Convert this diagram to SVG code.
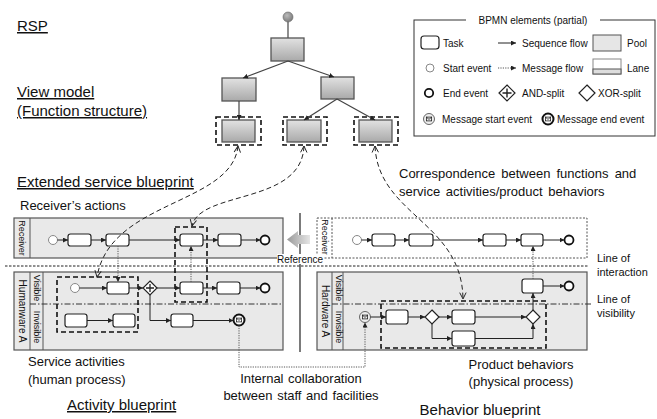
<svg xmlns="http://www.w3.org/2000/svg" width="657" height="419" viewBox="0 0 657 419">
<style>
text{font-family:"Liberation Sans",Arial,sans-serif;fill:#111}
.h{font-size:15px;text-decoration:underline}
.m{font-size:13px}
.s{font-size:10px}
.lb{font-size:9px}
.tb{fill:url(#g);stroke:#555;stroke-width:1.3}
.dbox{fill:none;stroke:#111;stroke-width:1.6;stroke-dasharray:5,3}
.task{fill:#fff;stroke:#222;stroke-width:1.2}
.pool{fill:#e9e9e9;stroke:#555;stroke-width:1.2}
.seq{fill:none;stroke:#222;stroke-width:1;marker-end:url(#a)}
.msg{fill:none;stroke:#555;stroke-width:1;stroke-dasharray:1.2,1.2;marker-end:url(#a)}
.cor{fill:none;stroke:#222;stroke-width:1;stroke-dasharray:5,3;marker-start:url(#v);marker-end:url(#v)}
.tree{fill:none;stroke:#444;stroke-width:1.2;marker-end:url(#a)}
.gw{fill:#fff;stroke:#222;stroke-width:1.2}
.se{fill:#fff;stroke:#888;stroke-width:1}
.ee{fill:#fff;stroke:#111;stroke-width:1.8}
</style>
<defs>
<linearGradient id="g" x1="0" y1="0" x2="0" y2="1"><stop offset="0" stop-color="#e2e2e2"/><stop offset="1" stop-color="#a9a9a9"/></linearGradient>
<linearGradient id="ga" x1="0" y1="0" x2="1" y2="0"><stop offset="0" stop-color="#999"/><stop offset="1" stop-color="#e6e6e6"/></linearGradient>
<radialGradient id="gc" cx="0.4" cy="0.35" r="0.7"><stop offset="0" stop-color="#bbb"/><stop offset="1" stop-color="#777"/></radialGradient>
<marker id="a" viewBox="0 0 6 6" refX="6" refY="3" markerWidth="5" markerHeight="5" markerUnits="userSpaceOnUse" orient="auto"><path d="M0,0 L6,3 L0,6 z" fill="#222"/></marker>
<marker id="v" viewBox="0 0 10 10" refX="9" refY="5" markerWidth="8" markerHeight="8" markerUnits="userSpaceOnUse" orient="auto-start-reverse"><path d="M1,1 L9,5 L1,9" fill="none" stroke="#222" stroke-width="1.2"/></marker>
<g id="env"><rect x="-2.6" y="-1.9" width="5.2" height="3.8" fill="none" stroke="#222" stroke-width="0.8"/><path d="M-2.6,-1.9 L0,0.4 L2.6,-1.9" fill="none" stroke="#222" stroke-width="0.8"/></g>
</defs>
<rect width="657" height="419" fill="#fff"/>

<!-- headings -->
<text class="h" x="17" y="31">RSP</text>
<text class="h" x="17" y="97">View model</text>
<text class="h" x="17" y="116">(Function structure)</text>
<text class="h" x="17" y="187">Extended service blueprint</text>
<text class="m" x="20" y="210">Receiver’s actions</text>
<text class="m" x="399" y="178" style="word-spacing:2.5px">Correspondence between functions and</text>
<text class="m" x="399" y="196" style="word-spacing:2px">service activities/product behaviors</text>

<!-- Tree (RSP / view model) -->
<g id="tree-root"><line x1="288" y1="18" x2="288" y2="38" stroke="#444" stroke-width="1.2"/><circle cx="288" cy="17" r="5" fill="url(#gc)" stroke="#666" stroke-width="0.6"/></g>
<g id="fn-top"><rect class="tb" x="271" y="38" width="33" height="23"/></g>
<g id="fn-left"><rect class="tb" x="222" y="78" width="34" height="23"/></g>
<g id="fn-right"><rect class="tb" x="321" y="77" width="33" height="22"/></g>
<g id="fn-l1"><rect class="dbox" x="216" y="117" width="45" height="28"/><rect class="tb" x="222" y="120" width="33" height="22"/></g>
<g id="fn-l2"><rect class="dbox" x="283" y="117" width="44" height="28"/><rect class="tb" x="287" y="120" width="34" height="22"/></g>
<g id="fn-l3"><rect class="dbox" x="354" y="117" width="44" height="28"/><rect class="tb" x="359" y="120" width="33" height="22"/></g>

<!-- Legend -->
<g id="legend">
<rect x="414" y="20" width="241" height="116" fill="#fff" stroke="#333" stroke-width="1"/>
<rect x="466" y="15" width="134" height="10" fill="#fff"/>
<text class="s" x="533" y="24" text-anchor="middle">BPMN elements (partial)</text>
<rect x="421" y="36" width="18" height="13" rx="3" class="task"/>
<text class="s" x="443" y="47">Task</text>
<line x1="498" y1="43" x2="516" y2="43" class="seq"/>
<text class="s" x="522" y="47">Sequence flow</text>
<rect x="593" y="35" width="28" height="16" fill="#e6e6e6" stroke="#555"/>
<text class="s" x="627" y="47">Pool</text>
<circle cx="430" cy="68" r="4" class="se"/>
<text class="s" x="443" y="72">Start event</text>
<line x1="498" y1="68" x2="516" y2="68" class="msg"/>
<text class="s" x="522" y="72">Message flow</text>
<rect x="593" y="59" width="28" height="15" fill="#fff" stroke="#888"/>
<rect x="593" y="69" width="28" height="5" fill="#ddd" stroke="#555"/>
<text class="s" x="627" y="72">Lane</text>
<circle cx="429" cy="93" r="4.2" class="ee"/>
<text class="s" x="443" y="97">End event</text>
<path d="M507,85 L515,93 L507,101 L499,93 z" class="gw"/>
<path d="M507,88.5 V97.5 M502.5,93 H511.5" stroke="#222" stroke-width="1.4"/>
<text class="s" x="522" y="97">AND-split</text>
<path d="M587,85 L595,93 L587,101 L579,93 z" class="gw"/>
<text class="s" x="598" y="97">XOR-split</text>
<circle cx="429" cy="119" r="5.5" fill="#eee" stroke="#666"/>
<use href="#env" x="429" y="119"/>
<text class="s" x="442" y="123">Message start event</text>
<circle cx="548" cy="119" r="5.5" fill="#fff" stroke="#111" stroke-width="2"/>
<use href="#env" x="548" y="119"/>
<text class="s" x="557" y="123">Message end event</text>
</g>

<!-- Left: Receiver pool -->
<g id="pool-receiver-left">
<rect class="pool" x="14" y="218" width="269" height="40"/>
<line x1="30" y1="218" x2="30" y2="258" stroke="#555"/>
<text class="lb" transform="translate(19,238) rotate(90)" text-anchor="middle">Receiver</text>
</g>
<!-- Left: Humanware pool -->
<g id="pool-humanware">
<rect class="pool" x="14" y="272" width="269" height="78"/>
<line x1="30" y1="272" x2="30" y2="350" stroke="#555"/>
<line x1="43" y1="272" x2="43" y2="350" stroke="#555"/>
<text class="lb" transform="translate(18.5,311) rotate(90)" text-anchor="middle" style="font-size:10px">Humanware A</text>
<text class="lb" transform="translate(33.5,288) rotate(90)" text-anchor="middle">Visible</text>
<text class="lb" transform="translate(33.5,327) rotate(90)" text-anchor="middle">Invisible</text>
<line x1="30" y1="304" x2="283" y2="304" stroke="#333" stroke-dasharray="6,2,1.5,2"/>
</g>

<!-- Right: Receiver pool -->
<g id="pool-receiver-right">
<rect x="317" y="218" width="270" height="40" fill="#fff" stroke="#555" stroke-dasharray="2,1.5"/>
<line x1="332" y1="218" x2="332" y2="258" stroke="#555" stroke-dasharray="2,1.5"/>
<text class="lb" transform="translate(321.5,237) rotate(90)" text-anchor="middle">Receiver</text>
</g>
<!-- Right: Hardware pool -->
<g id="pool-hardware">
<rect class="pool" x="317" y="272" width="270" height="78"/>
<line x1="332" y1="272" x2="332" y2="350" stroke="#555"/>
<line x1="343" y1="272" x2="343" y2="350" stroke="#555"/>
<text class="lb" transform="translate(321.5,311) rotate(90)" text-anchor="middle" style="font-size:10px">Hardware A</text>
<text class="lb" transform="translate(335.5,288) rotate(90)" text-anchor="middle">Visible</text>
<text class="lb" transform="translate(335.5,327) rotate(90)" text-anchor="middle">Invisible</text>
</g>

<!-- lines of interaction / visibility -->
<line x1="5" y1="266" x2="588" y2="266" stroke="#222" stroke-width="1" stroke-dasharray="2.5,1.5"/>
<line x1="332" y1="304" x2="592" y2="304" stroke="#333" stroke-dasharray="6,2,1.5,2"/>
<line x1="300" y1="213" x2="300" y2="352" stroke="#222" stroke-width="1.2"/>
<g id="reference">
<path d="M287,239.5 L298,231 L298,235 L310,235 L310,244 L298,244 L298,248 z" fill="url(#ga)"/>
<rect x="277" y="254" width="46" height="10" fill="#fff"/>
<text class="s" x="300" y="263" text-anchor="middle">Reference</text>
</g>
<text class="s" x="597" y="262" style="font-size:11px">Line of</text>
<text class="s" x="597" y="276" style="font-size:11px">interaction</text>
<text class="s" x="597" y="303" style="font-size:11px">Line of</text>
<text class="s" x="597" y="317" style="font-size:11px">visibility</text>

<!-- dashed grouping boxes -->
<rect class="dbox" x="57" y="277" width="81" height="55"/>
<rect class="dbox" x="175" y="227" width="32" height="75"/>
<rect class="dbox" x="381" y="301" width="165" height="47"/>

<!-- Left receiver nodes -->
<g id="lr-start"><circle cx="53" cy="240" r="4.5" class="se"/></g>
<g id="lr-t1"><rect class="task" x="68" y="234" width="23" height="12" rx="2.5"/></g>
<g id="lr-t2"><rect class="task" x="106" y="234" width="23" height="12" rx="2.5"/></g>
<g id="lr-t3"><rect class="task" x="180" y="234" width="23" height="12" rx="2.5"/></g>
<g id="lr-t4"><rect class="task" x="218" y="234" width="23" height="12" rx="2.5"/></g>
<g id="lr-end"><circle cx="265" cy="240" r="4.5" class="ee"/></g>

<!-- Left humanware nodes -->
<g id="lh-start"><circle cx="75" cy="288" r="4.5" class="se"/></g>
<g id="lh-t1"><rect class="task" x="107" y="282" width="22" height="12" rx="2.5"/></g>
<g id="lh-and"><path d="M150,281 L157,288 L150,295 L143,288 z" class="gw"/><path d="M150,284 V292 M146,288 H154" stroke="#222" stroke-width="1.3"/></g>
<g id="lh-t2"><rect class="task" x="180" y="282" width="23" height="12" rx="2.5"/></g>
<g id="lh-t3"><rect class="task" x="217" y="282" width="23" height="12" rx="2.5"/></g>
<g id="lh-end"><circle cx="265" cy="288" r="4.5" class="ee"/></g>
<g id="lh-t4"><rect class="task" x="65" y="314" width="22" height="13" rx="2.5"/></g>
<g id="lh-t5"><rect class="task" x="113" y="314" width="22" height="13" rx="2.5"/></g>
<g id="lh-t6"><rect class="task" x="171" y="314" width="22" height="13" rx="2.5"/></g>
<g id="lh-msgend"><circle cx="239" cy="320" r="5.5" fill="#fff" stroke="#111" stroke-width="2"/><use href="#env" x="239" y="320"/></g>

<!-- Right receiver nodes -->
<g id="rr-start"><circle cx="357" cy="240" r="4.5" class="se"/></g>
<g id="rr-t1"><rect class="task" x="372" y="234" width="23" height="12" rx="2.5"/></g>
<g id="rr-t2"><rect class="task" x="409" y="234" width="24" height="12" rx="2.5"/></g>
<g id="rr-t3"><rect class="task" x="483" y="234" width="23" height="12" rx="2.5"/></g>
<g id="rr-t4"><rect class="task" x="521" y="234" width="22" height="12" rx="2.5"/></g>
<g id="rr-end"><circle cx="569" cy="240" r="4.5" class="ee"/></g>

<!-- Right hardware nodes -->
<g id="rh-t-vis"><rect class="task" x="522" y="279" width="21" height="14" rx="2.5"/></g>
<g id="rh-end"><circle cx="569" cy="286" r="4.5" class="ee"/></g>
<g id="rh-msgstart"><circle cx="365" cy="317" r="5.5" fill="#eee" stroke="#666"/><use href="#env" x="365" y="317"/></g>
<g id="rh-t1"><rect class="task" x="386" y="310" width="22" height="14" rx="2.5"/></g>
<g id="rh-xor1"><path d="M432,310 L439,317 L432,324 L425,317 z" class="gw"/></g>
<g id="rh-t2"><rect class="task" x="452" y="310" width="23" height="14" rx="2.5"/></g>
<g id="rh-t3"><rect class="task" x="452" y="331" width="23" height="15" rx="2.5"/></g>
<g id="rh-xor2"><path d="M533,310 L540,317 L533,324 L526,317 z" class="gw"/></g>

<!-- Connectors -->
<g id="connectors">
<path class="tree" d="M288,61 L243,78"/>
<path class="tree" d="M288,61 L334,77"/>
<path class="tree" d="M239,101 L239,120"/>
<path class="tree" d="M337,99 L304,120"/>
<path class="tree" d="M337,99 L375,120"/>

<path class="seq" d="M57.5,240 H68"/>
<path class="seq" d="M91,240 H106"/>
<path class="seq" d="M129,240 H180"/>
<path class="seq" d="M203,240 H218"/>
<path class="seq" d="M241,240 H260.5"/>

<path class="seq" d="M79.5,288 H107"/>
<path class="seq" d="M129,288 H143"/>
<path class="seq" d="M157,288 H180"/>
<path class="seq" d="M203,288 H217"/>
<path class="seq" d="M240,288 H260.5"/>
<path class="seq" d="M87,320.5 H113"/>
<path class="seq" d="M150,295 V320.5 H171"/>
<path class="seq" d="M193,320.5 H233.5"/>

<path class="msg" d="M118,246 V282"/>
<path class="msg" d="M191,282 V246"/>
<path class="msg" d="M239,325.5 V367 H365 V322.5"/>

<path class="seq" d="M361.5,240 H372"/>
<path class="seq" d="M395,240 H409"/>
<path class="seq" d="M433,240 H483"/>
<path class="seq" d="M506,240 H521"/>
<path class="seq" d="M543,240 H564.5"/>

<path class="seq" d="M370.5,317 H386"/>
<path class="seq" d="M408,317 H425"/>
<path class="seq" d="M439,317 H452"/>
<path class="seq" d="M475,317 H526"/>
<path class="seq" d="M432,324 V338.5 H452"/>
<path class="seq" d="M475,338.5 H533 V324"/>
<path class="seq" d="M533,310 V293"/>
<path class="seq" d="M543,286 H564.5"/>
<path class="msg" d="M533,279 V246"/>

<path class="cor" d="M238,146 C232,205 110,200 97,277"/>
<path class="cor" d="M304,146 C302,205 200,190 192,226"/>
<path class="cor" d="M375,146 C378,215 462,222 463,299"/>
</g>

<!-- bottom labels -->
<text class="m" x="28" y="366">Service activities</text>
<text class="m" x="28" y="384">(human process)</text>
<text class="h" x="67" y="410">Activity blueprint</text>
<text class="m" x="301" y="383" text-anchor="middle" style="word-spacing:1px">Internal collaboration</text>
<text class="m" x="301" y="400" text-anchor="middle" style="word-spacing:1px">between staff and facilities</text>
<text class="m" x="521" y="369" text-anchor="middle">Product behaviors</text>
<text class="m" x="521" y="386" text-anchor="middle">(physical process)</text>
<text x="480" y="415" text-anchor="middle" style="font-size:15px">Behavior blueprint</text>
</svg>
